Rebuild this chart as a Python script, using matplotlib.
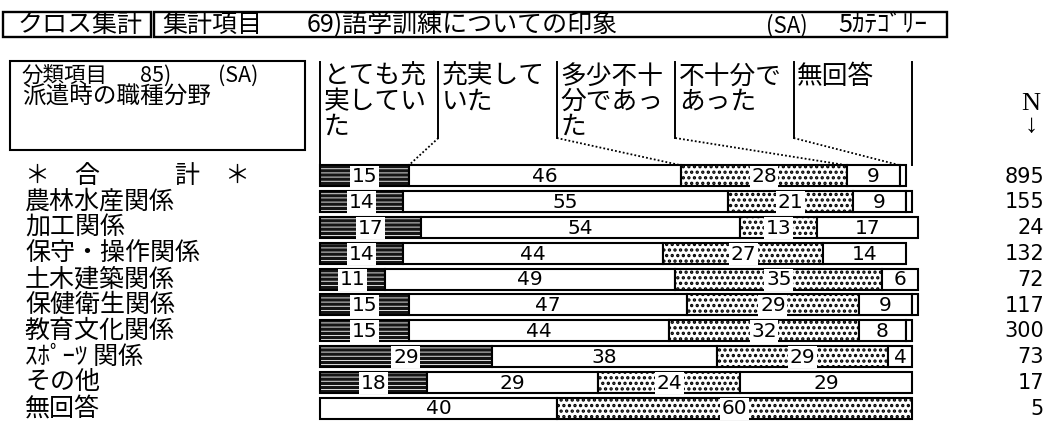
import matplotlib
matplotlib.use('Agg')
import matplotlib.pyplot as plt
from matplotlib.patches import Rectangle
from matplotlib.transforms import blended_transform_factory
import numpy as np

W, H = 1054, 423
CJK = ['Noto Sans CJK JP', 'DejaVu Sans']
plt.rcParams['font.family'] = CJK

# ---------------- data ----------------
categories = ['＊　合　　　計　＊', '農林水産関係', '加工関係', '保守・操作関係', '土木建築関係',
              '保健衛生関係', '教育文化関係', 'ｽﾎﾟｰﾂ 関係', 'その他', '無回答']
n_values = [895, 155, 24, 132, 72, 117, 300, 73, 17, 5]
series_headers = ['とても充\n実してい\nた', '充実して\nいた', '多少不十\n分であっ\nた', '不十分で\nあった', '無回答']
very_satisfied = [15, 14, 17, 14, 11, 15, 15, 29, 18, 0]
satisfied = [46, 55, 54, 44, 49, 47, 44, 38, 29, 40]
somewhat_insufficient = [28, 21, 13, 27, 35, 29, 32, 29, 24, 60]
insufficient = [9, 9, 17, 14, 6, 9, 8, 4, 29, 0]
no_answer = [1, 1, 0, 0, 0, 1, 1, 0, 0, 0]
series = [very_satisfied, satisfied, somewhat_insufficient, insufficient, no_answer]

title_left = 'クロス集計'
title_item = '集計項目'
title_question = '69)語学訓練についての印象'
title_type = '(SA)'
title_cats = '5ｶﾃｺﾞﾘｰ'
class_line1 = ['分類項目', '85)', '(SA)']
class_line2 = '派遣時の職種分野'
n_header = 'N\n↓'

# ---------------- styles ----------------
styles = [
    dict(fc='#151515', hatch='----', hc='white', hlw=0.6, box=True),
    dict(fc='white', hatch=None, hc='black', hlw=1.0, box=False),
    dict(fc='white', hatch='...', hc='black', hlw=1.6, box=True),
    dict(fc='white', hatch=None, hc='black', hlw=1.0, box=False),
    dict(fc='white', hatch=None, hc='black', hlw=1.0, box=False),
]

fig = plt.figure(figsize=(W / 100, H / 100), dpi=100)
fig.patch.set_facecolor('white')


def fx(x):
    return x / W


def fy(y):
    return 1 - y / H


AX_L, AX_R, AX_T, AX_B = 320, 912, 163, 421
ax = fig.add_axes([fx(AX_L), fy(AX_B), (AX_R - AX_L) / W, (AX_B - AX_T) / H])
nrows = len(categories)
ax.set_xlim(0, 100)
ax.set_ylim(nrows - 0.5, -0.5)
ax.axis('off')
pitch = (AX_B - AX_T) / nrows


def ydata(ypx):
    return -0.5 + (ypx - AX_T) / pitch


BAR_H = 0.82
ypos = np.arange(nrows)
left = np.zeros(nrows)
cum_first = []
for vals, st in zip(series, styles):
    v = np.array(vals, dtype=float)
    m = v > 0
    with plt.rc_context({'hatch.linewidth': st['hlw']}):
        bars = ax.barh(ypos[m], v[m], left=left[m], height=BAR_H, color=st['fc'],
                       edgecolor=st['hc'], linewidth=0, hatch=st['hatch'], clip_on=False)
    for b in bars:
        if hasattr(b, 'set_hatch_linewidth'):
            b.set_hatch_linewidth(st['hlw'])
    ax.barh(ypos[m], v[m], left=left[m], height=BAR_H, fill=False,
            edgecolor='black', linewidth=1.5, clip_on=False)
    for i in range(nrows):
        if v[i] >= 2:
            bb = dict(boxstyle='square,pad=0.08', fc='white', ec='none') if st['box'] else None
            ax.text(left[i] + v[i] / 2, i + 0.03, f'{int(v[i])}', ha='center', va='center',
                    fontsize=14.5, family='DejaVu Sans', bbox=bb, clip_on=False)
    left = left + v
    cum_first.append(left[0])

# column headers with leader lines
top_bar = -BAR_H / 2
for k, lab in enumerate(series_headers):
    xk = 20 * k
    ax.text(xk + 0.6, ydata(64), lab, ha='left', va='top', fontsize=18.5,
            linespacing=0.95, clip_on=False)
    if k == 0:
        ax.plot([xk, xk], [ydata(62), top_bar], color='black', lw=1.4, clip_on=False)
    else:
        ax.plot([xk, xk], [ydata(62), ydata(138)], color='black', lw=1.4, clip_on=False)
        ax.plot([xk, cum_first[k - 1]], [ydata(138), top_bar], color='black', lw=1.3,
                ls=(0, (1, 1.2)), clip_on=False)
ax.plot([100, 100], [ydata(62), top_bar], color='black', lw=1.4, clip_on=False)

# row labels and N values
trans = blended_transform_factory(fig.transFigure, ax.transData)
for i, (lab, n) in enumerate(zip(categories, n_values)):
    ax.text(fx(25), i, lab, transform=trans, ha='left', va='center', fontsize=18,
            clip_on=False)
    ax.text(fx(1044), i + 0.03, str(n), transform=trans, ha='right', va='center',
            fontsize=15, family='DejaVu Sans', clip_on=False)

# N header
fig.text(fx(1031), fy(115), n_header, ha='center', va='center', fontsize=19,
         linespacing=0.95, family=['Liberation Serif', 'DejaVu Serif'])

# title boxes
for (x0, x1) in [(3, 151), (154, 947)]:
    fig.add_artist(Rectangle((fx(x0), fy(37)), fx(x1) - fx(x0), fy(12) - fy(37),
                             transform=fig.transFigure, fill=False, lw=1.7, ec='black'))
ty = fy(32)
fig.text(fx(18), ty, title_left, ha='left', va='baseline', fontsize=18)
fig.text(fx(162), ty, title_item, ha='left', va='baseline', fontsize=18)
fig.text(fx(307), ty, title_question, ha='left', va='baseline', fontsize=18)
fig.text(fx(766), ty, title_type, ha='left', va='baseline', fontsize=16)
fig.text(fx(838), ty, title_cats, ha='left', va='baseline', fontsize=18)

# classification box
fig.add_artist(Rectangle((fx(10), fy(150)), fx(305) - fx(10), fy(61) - fy(150),
                         transform=fig.transFigure, fill=False, lw=1.5, ec='black'))
for txt, x in zip(class_line1, [22, 140, 218]):
    fig.text(fx(x), fy(82), txt, ha='left', va='baseline', fontsize=15.5)
fig.text(fx(22), fy(104), class_line2, ha='left', va='baseline', fontsize=17)

fig.savefig('out.png', dpi=100, facecolor='white')
